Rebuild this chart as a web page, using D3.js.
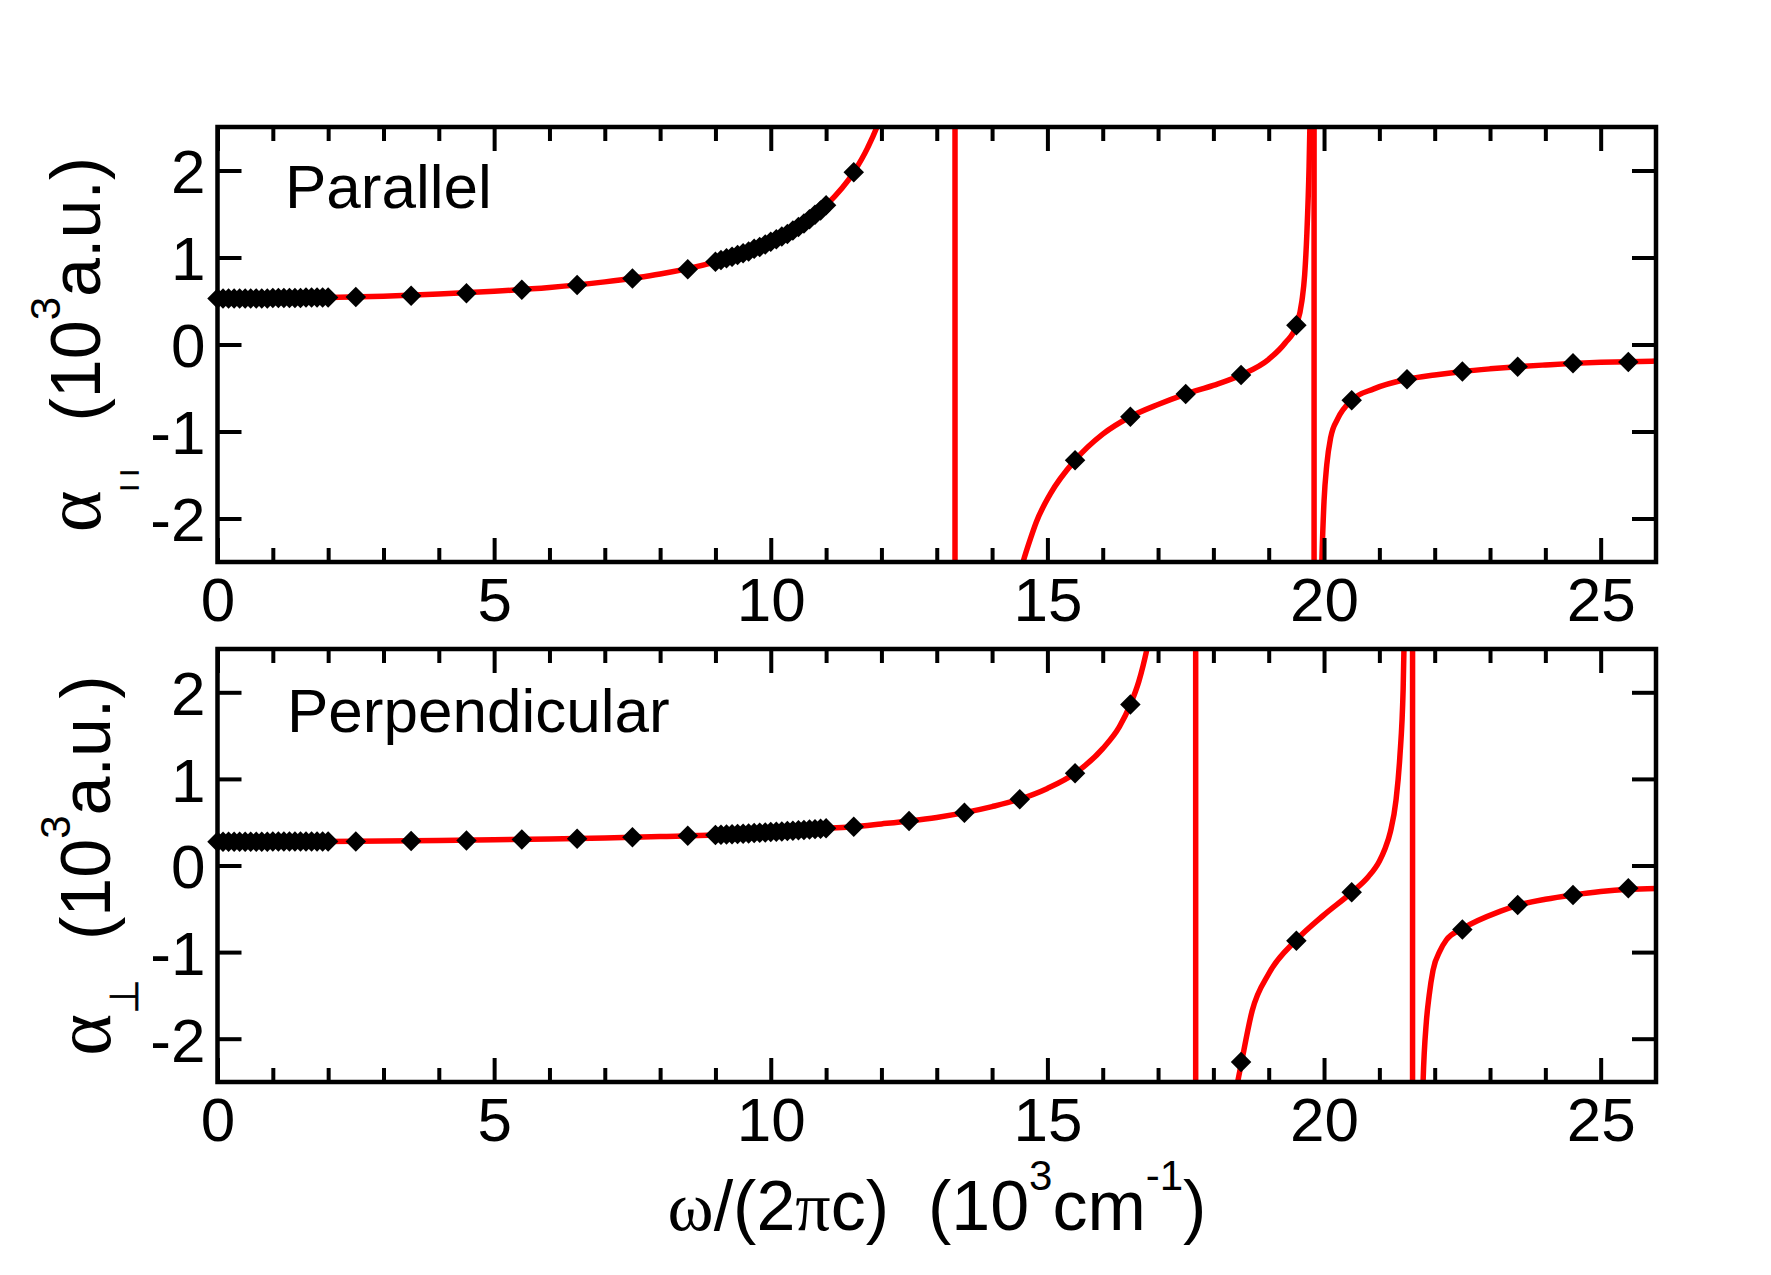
<!DOCTYPE html>
<html><head><meta charset="utf-8">
<script src="https://cdn.jsdelivr.net/npm/d3@7"></script>
<style>
body{margin:0;background:#fff;}
svg{display:block;}
text{font-family:"Liberation Sans",Arial,Helvetica,sans-serif;fill:#000;}
</style></head><body>
<svg id="chart" width="1771" height="1275"></svg>
<script>
// ---------------- data ----------------
const xMajorTicks = [0, 5, 10, 15, 20, 25];
const xMinorTicks = [1,2,3,4,6,7,8,9,11,12,13,14,16,17,18,19,21,22,23,24];
const yTicks = [-2, -1, 0, 1, 2];
const panelNames = ["Parallel", "Perpendicular"];

// Parallel: computed curve (three branches) and the two resonance jumps
const parCurveAX = [0,1,2,3,4,5,6,7,8,9,9.5,10,10.5,11,11.5,11.75,12,12.2];
const parCurveAY = [0.53,0.535,0.54,0.555,0.58,0.612,0.655,0.72,0.81,0.95,1.05,1.18,1.35,1.60,1.98,2.26,2.64,3.1];
const parCurveBX = [14.3,14.4,14.56,14.7,14.8,15.05,15.5,16,16.5,17,17.5,18,18.5,19,19.3,19.5,19.6,19.65,19.69,19.73,19.76];
const parCurveBY = [-3.3,-2.9,-2.5,-2.22,-2.04,-1.72,-1.33,-1.03,-0.83,-0.69,-0.57,-0.47,-0.35,-0.17,0.02,0.22,0.5,0.8,1.28,2.05,3.0];
const parCurveCX = [19.93,19.96,20.0,20.05,20.12,20.25,20.5,20.9,21.5,22,22.5,23,23.5,24,24.5,25,25.5,26];
const parCurveCY = [-3.3,-2.5,-1.8,-1.38,-1.07,-0.85,-0.64,-0.51,-0.40,-0.35,-0.31,-0.28,-0.255,-0.235,-0.217,-0.205,-0.198,-0.19];
const parPoles = [13.33, 19.82];

// Parallel: sampled points (diamonds)
const parPtsX = [0,0.1,0.2,0.3,0.4,0.5,0.6,0.7,0.8,0.9,1.0,1.1,1.2,1.3,1.4,1.5,1.6,1.7,1.8,1.9,2.0,
  2.5,3.5,4.5,5.5,6.5,7.5,8.5,
  9.0,9.1,9.2,9.3,9.4,9.5,9.6,9.7,9.8,9.9,10.0,10.1,10.2,10.3,10.4,10.5,10.6,10.7,10.8,10.9,11.0,
  11.5,15.5,16.5,17.5,18.5,19.5,20.5,21.5,22.5,23.5,24.5,25.5];
const parPtsY = [0.53,0.53,0.53,0.53,0.53,0.53,0.53,0.53,0.53,0.53,0.535,0.535,0.535,0.535,0.535,0.535,0.54,0.54,0.54,0.54,0.54,
  0.545,0.56,0.59,0.63,0.685,0.76,0.865,
  0.95,0.97,0.99,1.01,1.03,1.05,1.07,1.10,1.12,1.15,1.18,1.21,1.24,1.27,1.31,1.35,1.39,1.44,1.49,1.54,1.60,
  1.98,-1.33,-0.83,-0.57,-0.35,0.22,-0.64,-0.40,-0.31,-0.255,-0.215,-0.20];

// Perpendicular: computed curve (three branches) and the two resonance jumps
const perpCurveAX = [0,2,4,5,6,7,8,9,10,11,11.5,12,12.5,13,13.5,14,14.5,15,15.5,16,16.3,16.5,16.65,16.8,16.95];
const perpCurveAY = [0.275,0.278,0.288,0.297,0.305,0.318,0.334,0.352,0.386,0.43,0.448,0.48,0.514,0.555,0.61,0.68,0.766,0.89,1.065,1.35,1.6,1.86,2.12,2.5,3.0];
const perpCurveBX = [18.3,18.4,18.51,18.7,19,19.5,20,20.5,20.8,21.0,21.1,21.2,21.3,21.37,21.43,21.47];
const perpCurveBY = [-3.1,-2.64,-2.27,-1.68,-1.25,-0.86,-0.57,-0.31,-0.13,0.05,0.19,0.39,0.75,1.25,2.04,3.3];
const perpCurveCX = [21.75,21.79,21.85,21.9,21.97,22.1,22.21,22.5,23.18,23.5,24,24.5,25,25.5,26];
const perpCurveCY = [-3.6,-2.5,-1.8,-1.5,-1.21,-0.98,-0.86,-0.73,-0.53,-0.46,-0.39,-0.34,-0.30,-0.275,-0.265];
const perpPoles = [17.68, 21.6];

// Perpendicular: sampled points (diamonds)
const perpPtsX = [0,0.1,0.2,0.3,0.4,0.5,0.6,0.7,0.8,0.9,1.0,1.1,1.2,1.3,1.4,1.5,1.6,1.7,1.8,1.9,2.0,
  2.5,3.5,4.5,5.5,6.5,7.5,8.5,
  9.0,9.1,9.2,9.3,9.4,9.5,9.6,9.7,9.8,9.9,10.0,10.1,10.2,10.3,10.4,10.5,10.6,10.7,10.8,10.9,11.0,
  11.5,12.5,13.5,14.5,15.5,16.5,18.5,19.5,20.5,22.5,23.5,24.5,25.5];
const perpPtsY = [0.275,0.275,0.275,0.275,0.275,0.275,0.275,0.275,0.275,0.275,0.276,0.276,0.276,0.276,0.276,0.277,0.277,0.277,0.277,0.278,0.278,
  0.278,0.282,0.29,0.30,0.31,0.325,0.344,
  0.352,0.355,0.358,0.361,0.364,0.367,0.37,0.374,0.378,0.382,0.386,0.39,0.394,0.398,0.402,0.406,0.41,0.415,0.42,0.425,0.43,
  0.448,0.514,0.61,0.766,1.065,1.86,-2.27,-0.87,-0.31,-0.74,-0.456,-0.34,-0.263];

// ---------------- drawing ----------------
const svg = d3.select("#chart");
const X_DOMAIN = [0, 26];
const Y_DOMAIN = [-2.5, 2.5];
const x = d3.scaleLinear().domain(X_DOMAIN).range([217.5, 1656]);

const panels = [
  {name: panelNames[0], top: 127, bottom: 562, nameX: 285, nameY: 208,
   branches: [[parCurveAX, parCurveAY], [parCurveBX, parCurveBY], [parCurveCX, parCurveCY]],
   poles: parPoles, ptsX: parPtsX, ptsY: parPtsY},
  {name: panelNames[1], top: 649, bottom: 1082, nameX: 287, nameY: 732,
   branches: [[perpCurveAX, perpCurveAY], [perpCurveBX, perpCurveBY], [perpCurveCX, perpCurveCY]],
   poles: perpPoles, ptsX: perpPtsX, ptsY: perpPtsY}
];

const defs = svg.append("defs");
const RED = "#ff0000";

panels.forEach((p, i) => {
  const y = d3.scaleLinear().domain(Y_DOMAIN).range([p.bottom, p.top]);
  const g = svg.append("g");
  const clipId = "clip" + i;
  defs.append("clipPath").attr("id", clipId).append("rect")
    .attr("x", x(X_DOMAIN[0])).attr("y", p.top)
    .attr("width", x(X_DOMAIN[1]) - x(X_DOMAIN[0])).attr("height", p.bottom - p.top);

  const plot = g.append("g").attr("clip-path", `url(#${clipId})`);
  const line = d3.line().x(d => x(d[0])).y(d => y(d[1])).curve(d3.curveMonotoneX);
  p.branches.forEach(b => {
    plot.append("path").datum(d3.zip(b[0], b[1])).attr("d", line)
      .attr("fill", "none").attr("stroke", RED).attr("stroke-width", 5.5)
      .attr("stroke-linejoin", "round");
  });
  plot.selectAll("line.pole").data(p.poles).join("line").attr("class", "pole")
    .attr("x1", d => x(d)).attr("x2", d => x(d))
    .attr("y1", y(Y_DOMAIN[1] + 1)).attr("y2", y(Y_DOMAIN[0] - 1))
    .attr("stroke", RED).attr("stroke-width", 5.5);

  g.append("g").selectAll("path").data(d3.zip(p.ptsX, p.ptsY)).join("path")
    .attr("d", d3.symbol(d3.symbolSquare, 210))
    .attr("transform", d => `translate(${x(d[0])},${y(d[1])}) rotate(45)`)
    .attr("fill", "#000");

  // axes (ticks inward)
  const styleAxis = sel => {
    sel.select(".domain").remove();
    sel.selectAll(".tick line").attr("stroke", "#000").attr("stroke-width", 4);
    sel.selectAll(".tick text").style("font-size", "62px").attr("fill", "#000");
  };
  g.append("g").attr("transform", `translate(0,${p.bottom})`)
    .call(d3.axisBottom(x).tickValues(xMajorTicks).tickSizeInner(-24).tickSizeOuter(0).tickPadding(15).tickFormat(d => String(d)))
    .call(styleAxis);
  g.append("g").attr("transform", `translate(0,${p.bottom})`)
    .call(d3.axisBottom(x).tickValues(xMinorTicks).tickSizeInner(-14).tickSizeOuter(0).tickFormat(""))
    .call(styleAxis);
  g.append("g").attr("transform", `translate(0,${p.top})`)
    .call(d3.axisTop(x).tickValues(xMajorTicks).tickSizeInner(-24).tickSizeOuter(0).tickFormat(""))
    .call(styleAxis);
  g.append("g").attr("transform", `translate(0,${p.top})`)
    .call(d3.axisTop(x).tickValues(xMinorTicks).tickSizeInner(-14).tickSizeOuter(0).tickFormat(""))
    .call(styleAxis);
  g.append("g").attr("transform", `translate(${x(X_DOMAIN[0])},0)`)
    .call(d3.axisLeft(y).tickValues(yTicks).tickSizeInner(-24).tickSizeOuter(0).tickPadding(12).tickFormat(d => String(d)))
    .call(styleAxis)
    .call(s => s.selectAll(".tick text").attr("dy", "0.36em"));
  g.append("g").attr("transform", `translate(${x(X_DOMAIN[1])},0)`)
    .call(d3.axisRight(y).tickValues(yTicks).tickSizeInner(-24).tickSizeOuter(0).tickFormat(""))
    .call(styleAxis);

  g.append("rect").attr("x", x(X_DOMAIN[0])).attr("y", p.top)
    .attr("width", x(X_DOMAIN[1]) - x(X_DOMAIN[0])).attr("height", p.bottom - p.top)
    .attr("fill", "none").attr("stroke", "#000").attr("stroke-width", 4.5);

  g.append("text").attr("x", p.nameX).attr("y", p.nameY)
    .style("font-size", "62px").text(p.name);
});

// y-axis titles
function yTitle(cx, cy, sub, subFont, subFamily, subDy, subSpacing, subStroke) {
  const t = svg.append("text").attr("transform", `translate(${cx},${cy}) rotate(-90)`)
    .attr("text-anchor", "middle").style("font-size", "70px").style("white-space", "pre");
  t.append("tspan").style("font-family", "'Liberation Serif','Times New Roman',serif").style("font-size", "80px").text("α");
  t.append("tspan").attr("dy", subDy).style("font-size", subFont).style("font-family", subFamily)
    .style("letter-spacing", subSpacing).attr("stroke", "#000").attr("stroke-width", subStroke).text(sub);
  t.append("tspan").attr("dy", -subDy).text("  (10");
  t.append("tspan").attr("dy", -40).style("font-size", "42px").text("3");
  t.append("tspan").attr("dy", 40).text("a.u.)");
}
yTitle(100, 344.5, "||", "19px", "'Liberation Sans',Arial,sans-serif", 34, "10px", 1.6);
yTitle(110, 865.5, "⊥", "40px", "'DejaVu Sans',sans-serif", 28, "0px", 0.6);

// x-axis title
const xt = svg.append("text").attr("x", 937).attr("y", 1230).attr("text-anchor", "middle")
  .style("font-size", "70px").style("white-space", "pre");
xt.append("tspan").style("font-family", "'Liberation Serif','Times New Roman',serif").text("ω");
xt.append("tspan").text("/(2");
xt.append("tspan").style("font-family", "'Liberation Serif','Times New Roman',serif").text("π");
xt.append("tspan").text("c)  (10");
xt.append("tspan").attr("dy", -40).style("font-size", "42px").text("3");
xt.append("tspan").attr("dy", 40).text("cm");
xt.append("tspan").attr("dy", -40).style("font-size", "42px").text("-1");
xt.append("tspan").attr("dy", 40).text(")");
</script>
</body></html>
